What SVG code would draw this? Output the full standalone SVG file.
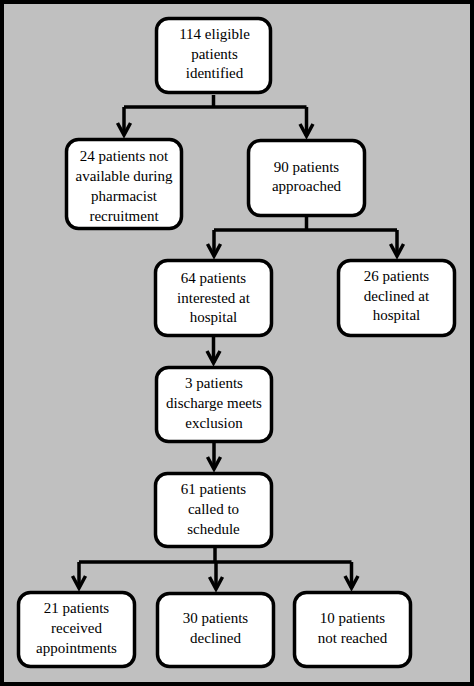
<svg xmlns="http://www.w3.org/2000/svg" width="474" height="686" viewBox="0 0 474 686">
<style>
.box{fill:#fff;stroke:#000;stroke-width:3.5}
.t{font-family:'Liberation Serif','Times New Roman',serif;font-size:15px;fill:#000;text-anchor:middle}
.c{fill:none;stroke:#000;stroke-width:3.5}
</style>
<defs>
<marker id="ah" markerUnits="userSpaceOnUse" markerWidth="20" markerHeight="20" refX="0" refY="0" orient="auto" overflow="visible" viewBox="-15 -10 20 20">
<path d="M-12,-6.5 L0,0 L-12,6.5" fill="none" stroke="#000" stroke-width="3.5" stroke-linejoin="miter"/>
</marker>
</defs>
<rect x="2" y="2" width="470" height="682" fill="#c0c0c0" stroke="#000" stroke-width="4"/>
<g id="connectors">
<path class="c" d="M213.5,95 V107 M124,107 H306.5"/>
<path class="c" d="M124,107 V135" marker-end="url(#ah)"/>
<path class="c" d="M306.5,107 V136" marker-end="url(#ah)"/>
<path class="c" d="M306.5,217 V230 M214,230 H397"/>
<path class="c" d="M214,230 V256" marker-end="url(#ah)"/>
<path class="c" d="M397,230 V256" marker-end="url(#ah)"/>
<path class="c" d="M213.5,337 V363" marker-end="url(#ah)"/>
<path class="c" d="M214,443 V469" marker-end="url(#ah)"/>
<path class="c" d="M215,548 V562 M79,562 H351.5"/>
<path class="c" d="M79,562 V588" marker-end="url(#ah)"/>
<path class="c" d="M216,562 V589" marker-end="url(#ah)"/>
<path class="c" d="M351.5,562 V588" marker-end="url(#ah)"/>
</g>
<g id="n1">
<rect class="box" x="156.5" y="18.5" width="114" height="74" rx="12"/>
<text class="t" x="214.5" y="39">114 eligible</text>
<text class="t" x="214.5" y="59">patients</text>
<text class="t" x="214.5" y="78">identified</text>
</g>
<g id="n2">
<rect class="box" x="66.5" y="139.5" width="115" height="89" rx="12"/>
<text class="t" x="124" y="161">24 patients not</text>
<text class="t" x="124" y="181">available during</text>
<text class="t" x="124" y="201">pharmacist</text>
<text class="t" x="124" y="221">recruitment</text>
</g>
<g id="n3">
<rect class="box" x="248.5" y="140.5" width="116" height="75" rx="12"/>
<text class="t" x="306.5" y="172">90 patients</text>
<text class="t" x="306.5" y="191">approached</text>
</g>
<g id="n4">
<rect class="box" x="155.5" y="260.5" width="116" height="75" rx="12"/>
<text class="t" x="213.5" y="283">64 patients</text>
<text class="t" x="213.5" y="302.5">interested at</text>
<text class="t" x="213.5" y="322">hospital</text>
</g>
<g id="n5">
<rect class="box" x="338.5" y="260.5" width="116" height="75" rx="12"/>
<text class="t" x="396.5" y="281">26 patients</text>
<text class="t" x="396.5" y="301">declined at</text>
<text class="t" x="396.5" y="320">hospital</text>
</g>
<g id="n6">
<rect class="box" x="156.5" y="367.5" width="115" height="74" rx="12"/>
<text class="t" x="214" y="388">3 patients</text>
<text class="t" x="214" y="408">discharge meets</text>
<text class="t" x="214" y="428">exclusion</text>
</g>
<g id="n7">
<rect class="box" x="155.5" y="473.5" width="116" height="73" rx="12"/>
<text class="t" x="213.5" y="494">61 patients</text>
<text class="t" x="213.5" y="514">called to</text>
<text class="t" x="213.5" y="534">schedule</text>
</g>
<g id="n8">
<rect class="box" x="18.5" y="592.5" width="116" height="74" rx="12"/>
<text class="t" x="76.5" y="613">21 patients</text>
<text class="t" x="76.5" y="633">received</text>
<text class="t" x="76.5" y="653">appointments</text>
</g>
<g id="n9">
<rect class="box" x="157.5" y="593.5" width="116" height="73" rx="12"/>
<text class="t" x="215.5" y="623">30 patients</text>
<text class="t" x="215.5" y="643">declined</text>
</g>
<g id="n10">
<rect class="box" x="294.5" y="592.5" width="116" height="74" rx="12"/>
<text class="t" x="352.5" y="623">10 patients</text>
<text class="t" x="352.5" y="643">not reached</text>
</g>
</svg>
